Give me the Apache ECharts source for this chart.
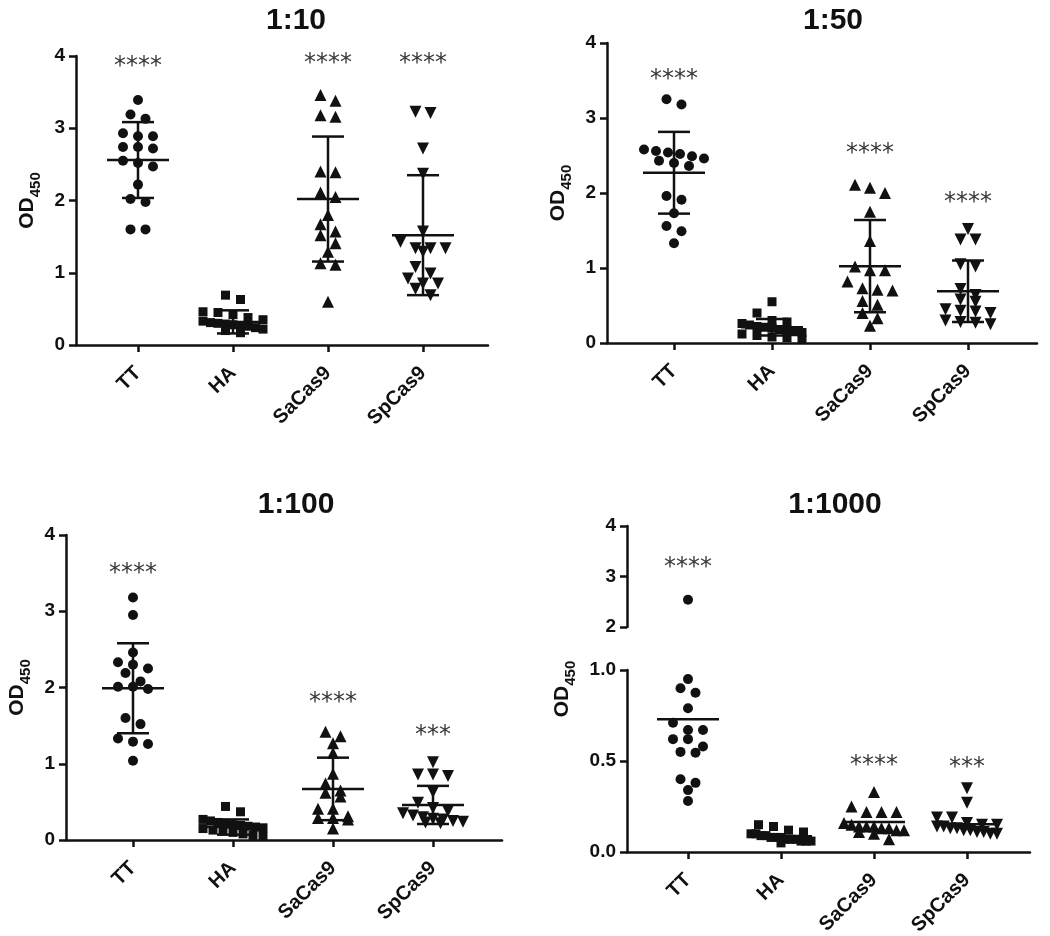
<!DOCTYPE html>
<html><head><meta charset="utf-8">
<script src="https://cdn.jsdelivr.net/npm/echarts@6/dist/echarts.min.js"></script>
<style>html,body{margin:0;padding:0;background:#fff}#c{width:1050px;height:936px}</style>
</head><body><div id="c"></div>
<script>
// ---------------- DATA ----------------
const CATEGORIES = ['TT', 'HA', 'SaCas9', 'SpCas9'];
const PANEL_TITLES = ['1:10', '1:50', '1:100', '1:1000'];
const Y_TICK_INTERVAL = 1;          // 0..4 for the first three panels
const Y_LOW_1000_INTERVAL = 0.5;    // 0.0, 0.5, 1.0
const Y_HIGH_1000_INTERVAL = 1;     // 2, 3, 4

// 1:10
const TT_1_10     = [3.39, 3.19, 3.13, 2.93, 2.89, 2.89, 2.74, 2.74, 2.72, 2.55, 2.52, 2.47, 2.22, 2.02, 1.98, 1.60, 1.60];
const HA_1_10     = [0.69, 0.63, 0.46, 0.45, 0.42, 0.38, 0.35, 0.33, 0.31, 0.30, 0.29, 0.28, 0.27, 0.26, 0.24, 0.22, 0.20, 0.17];
const SACAS9_1_10 = [3.46, 3.38, 3.18, 3.16, 2.40, 2.39, 2.11, 2.05, 1.80, 1.67, 1.57, 1.52, 1.41, 1.29, 1.13, 1.11, 0.60];
const SPCAS9_1_10 = [3.23, 3.21, 2.72, 2.37, 1.57, 1.43, 1.34, 1.34, 1.34, 1.29, 1.08, 0.99, 0.92, 0.85, 0.85, 0.78, 0.69];
const MEAN_1_10   = [2.56, 0.32, 2.02, 1.52];
const SD_1_10     = [0.525, 0.16, 0.865, 0.83];
const STARS_1_10  = ['****', '', '****', '****'];
const STAR_Y_1_10 = [3.90, null, 3.95, 3.95];

// 1:50
const TT_1_50     = [3.25, 3.18, 2.58, 2.56, 2.54, 2.52, 2.49, 2.46, 2.43, 2.40, 2.36, 1.96, 1.91, 1.73, 1.56, 1.49, 1.33];
const HA_1_50     = [0.55, 0.40, 0.30, 0.28, 0.26, 0.24, 0.22, 0.21, 0.20, 0.18, 0.17, 0.15, 0.14, 0.12, 0.10, 0.08, 0.07, 0.05];
const SACAS9_1_50 = [2.11, 2.07, 2.00, 1.75, 1.36, 1.02, 0.97, 0.97, 0.82, 0.73, 0.71, 0.70, 0.56, 0.51, 0.40, 0.33, 0.23];
const SPCAS9_1_50 = [1.52, 1.38, 1.38, 1.05, 1.02, 0.72, 0.64, 0.58, 0.55, 0.45, 0.43, 0.42, 0.40, 0.30, 0.28, 0.27, 0.25];
const MEAN_1_50   = [2.27, 0.21, 1.025, 0.69];
const SD_1_50     = [0.545, 0.11, 0.615, 0.41];
const STARS_1_50  = ['****', '', '****', '****'];
const STAR_Y_1_50 = [3.56, null, 2.57, 1.92];

// 1:100
const TT_1_100     = [3.18, 2.95, 2.46, 2.33, 2.30, 2.25, 2.19, 2.08, 2.01, 2.01, 1.98, 1.60, 1.52, 1.33, 1.29, 1.26, 1.04];
const HA_1_100     = [0.44, 0.37, 0.27, 0.25, 0.23, 0.21, 0.20, 0.19, 0.18, 0.17, 0.16, 0.15, 0.13, 0.12, 0.10, 0.08, 0.06, 0.05];
const SACAS9_1_100 = [1.42, 1.36, 1.27, 1.14, 0.87, 0.74, 0.65, 0.62, 0.57, 0.41, 0.41, 0.31, 0.29, 0.29, 0.27, 0.15];
const SPCAS9_1_100 = [1.02, 0.86, 0.86, 0.84, 0.63, 0.49, 0.42, 0.38, 0.35, 0.32, 0.30, 0.28, 0.27, 0.25, 0.24, 0.23, 0.22];
const MEAN_1_100   = [1.99, 0.17, 0.67, 0.46];
const SD_1_100     = [0.59, 0.10, 0.41, 0.25];
const STARS_1_100  = ['****', '', '****', '***'];
const STAR_Y_1_100 = [3.54, null, 1.85, 1.42];

// 1:1000 (broken axis: 0–1 below, 2–4 above)
const TT_1_1000     = [2.54, 0.95, 0.90, 0.875, 0.79, 0.71, 0.67, 0.67, 0.62, 0.62, 0.58, 0.55, 0.545, 0.40, 0.38, 0.34, 0.28];
const HA_1_1000     = [0.15, 0.14, 0.12, 0.11, 0.10, 0.10, 0.09, 0.09, 0.08, 0.08, 0.08, 0.07, 0.07, 0.07, 0.06, 0.06, 0.06, 0.05];
const SACAS9_1_1000 = [0.33, 0.25, 0.22, 0.22, 0.22, 0.16, 0.15, 0.14, 0.14, 0.14, 0.13, 0.13, 0.12, 0.12, 0.11, 0.10, 0.07];
const SPCAS9_1_1000 = [0.35, 0.27, 0.19, 0.19, 0.16, 0.15, 0.15, 0.14, 0.14, 0.13, 0.13, 0.12, 0.12, 0.11, 0.11, 0.10, 0.10];
const MEAN_1_1000   = [0.73, 0.086, 0.165, 0.152];
const STARS_1_1000  = ['****', '', '****', '***'];
const STAR_Y_1_1000 = [3.26, null, 0.495, 0.487];

// ---------------- LAYOUT / STYLE ----------------
const FONT = '"Liberation Sans", Arial, Helvetica, sans-serif';
const INK = '#111';
const LW = 2.5;
const L = [
  { left: 76,  cat1: 138, step: 95,  right: 488,  top: 56,  bottom: 345, tx: 296, ty: 23 },
  { left: 607, cat1: 674, step: 98,  right: 1037, top: 43,  bottom: 343, tx: 833, ty: 23 },
  { left: 66,  cat1: 133, step: 100, right: 502,  top: 535, bottom: 840, tx: 296, ty: 507 },
  { left: 627, cat1: 688, step: 93,  right: 1030, top: 670, bottom: 852, upTop: 526, upBottom: 627, tx: 835, ty: 507 }
];
const SYMBOLS = [
  { symbol: 'circle', size: 10, rot: 0 },
  { symbol: 'rect', size: 9, rot: 0 },
  { symbol: 'triangle', size: 12, rot: 0 },
  { symbol: 'triangle', size: 12, rot: 180 }
];
const ROW_H = 9;      // px height of a scatter row
const ROW_GAP = 15;   // px between neighbours in a row
const ROW_MAXW = 60;  // max px width of a row

function xRange(l) {
  return { min: 1 - (l.cat1 - l.left) / l.step, max: 4 + (l.right - (l.cat1 + 3 * l.step)) / l.step };
}

// scatter-dot-plot layout: values binned into rows, spread horizontally around the category
function rowOffsets(values, pxPerUnit) {
  const order = values.map((v, i) => i).sort((a, b) => values[b] - values[a]);
  const offs = new Array(values.length).fill(0);
  let row = [];
  const flush = () => {
    const n = row.length;
    const gap = n > 1 ? Math.min(ROW_GAP, ROW_MAXW / (n - 1)) : 0;
    row.forEach((idx, j) => { offs[idx] = (j - (n - 1) / 2) * gap; });
    row = [];
  };
  let start = null;
  order.forEach(i => {
    const y = values[i] * pxPerUnit;
    if (start === null || start - y > ROW_H) { flush(); start = y; }
    row.push(i);
  });
  flush();
  return offs;
}

const grids = [], xAxes = [], yAxes = [], series = [], titles = [];

function axisLineStyle() { return { show: true, onZero: false, lineStyle: { color: INK, width: LW } }; }

function addGrid(l, top, bottom, showX) {
  const idx = grids.length;
  grids.push({ left: l.left, top: top, width: l.right - l.left, height: bottom - top, outerBoundsMode: 'none', containLabel: false });
  const xr = xRange(l);
  xAxes.push({
    type: 'value', gridIndex: idx, min: xr.min, max: xr.max, show: showX,
    axisLine: axisLineStyle(),
    axisTick: { show: true, length: 7, lineStyle: { color: INK, width: LW }, customValues: [1, 2, 3, 4] },
    axisLabel: {
      customValues: [1, 2, 3, 4], rotate: 45, margin: 25,
      formatter: v => CATEGORIES[Math.round(v) - 1] || '',
      fontFamily: FONT, fontWeight: 'bold', fontSize: 20, color: INK
    },
    splitLine: { show: false }
  });
  return idx;
}

function yAxisBase(idx, min, max, interval, fmt) {
  return {
    type: 'value', gridIndex: idx, min, max, interval,
    axisLine: axisLineStyle(),
    axisTick: { show: true, length: 7, lineStyle: { color: INK, width: LW } },
    axisLabel: { margin: 11, fontFamily: FONT, fontWeight: 'bold', fontSize: 19, color: INK, formatter: fmt },
    splitLine: { show: false }
  };
}

const NAME_RICH = {
  a: { fontFamily: FONT, fontWeight: 'bold', fontSize: 21, color: INK, lineHeight: 26, verticalAlign: 'bottom', padding: [0, 0, 5, 0] },
  b: { fontFamily: FONT, fontWeight: 'bold', fontSize: 15, color: INK, lineHeight: 26, verticalAlign: 'bottom' }
};
function withName(ax, gap) {
  ax.name = '{a|OD}{b|450}';
  ax.nameLocation = 'middle';
  ax.nameRotate = 90;
  ax.nameGap = gap;
  ax.nameTextStyle = { rich: NAME_RICH };
  return ax;
}

function addPoints(gi, l, groups, pxPerUnit) {
  groups.forEach((vals, c) => {
    if (!vals.length) return;
    const s = SYMBOLS[c];
    const offs = rowOffsets(vals, pxPerUnit);
    series.push({
      type: 'scatter', xAxisIndex: gi, yAxisIndex: gi, silent: true, clip: false, z: 2,
      symbol: s.symbol, symbolSize: s.size, symbolRotate: s.rot,
      itemStyle: { color: INK, opacity: 1 },
      data: vals.map((v, i) => [c + 1 + offs[i] / l.step, v])
    });
  });
}

function addBars(gi, means, sds) {
  series.push({
    type: 'custom', xAxisIndex: gi, yAxisIndex: gi, silent: true, clip: false, z: 3,
    encode: { x: 0, y: 1 },
    data: means.map((m, i) => sds ? [i + 1, m, sds[i]] : [i + 1, m]),
    renderItem: (params, api) => {
      const x = api.value(0), m = api.value(1), sd = api.value(2);
      const c = api.coord([x, m]);
      const st = { stroke: INK, lineWidth: LW };
      const ch = [{ type: 'line', shape: { x1: c[0] - 31, y1: c[1], x2: c[0] + 31, y2: c[1] }, style: st }];
      if (sd === sd && sd != null && sd > 0) {
        const t = api.coord([x, m + sd]), b = api.coord([x, m - sd]);
        ch.push({ type: 'line', shape: { x1: c[0], y1: t[1], x2: c[0], y2: b[1] }, style: st });
        ch.push({ type: 'line', shape: { x1: c[0] - 16, y1: t[1], x2: c[0] + 16, y2: t[1] }, style: st });
        ch.push({ type: 'line', shape: { x1: c[0] - 16, y1: b[1], x2: c[0] + 16, y2: b[1] }, style: st });
      }
      return { type: 'group', children: ch };
    }
  });
}

function addStars(gi, stars, ys, only) {
  const data = [];
  stars.forEach((s, i) => {
    if (!s || ys[i] == null) return;
    if (only && !only(ys[i])) return;
    data.push({ value: [i + 1, ys[i]], label: { formatter: s } });
  });
  series.push({
    type: 'scatter', xAxisIndex: gi, yAxisIndex: gi, silent: true, clip: false, z: 4,
    symbolSize: 1, itemStyle: { color: 'rgba(0,0,0,0)' },
    label: { show: true, position: 'inside', offset: [0, 4], fontFamily: '"DejaVu Sans", sans-serif', fontSize: 24, color: '#000' },
    data
  });
}

function addTitle(l, text) {
  titles.push({ text, left: l.tx, top: l.ty - 17, textAlign: 'center', padding: 0,
    textStyle: { fontFamily: FONT, fontWeight: 'bold', fontSize: 30, color: INK } });
}

// Panels 1–3
const PANELS = [
  { groups: [TT_1_10, HA_1_10, SACAS9_1_10, SPCAS9_1_10], mean: MEAN_1_10, sd: SD_1_10, stars: STARS_1_10, sy: STAR_Y_1_10 },
  { groups: [TT_1_50, HA_1_50, SACAS9_1_50, SPCAS9_1_50], mean: MEAN_1_50, sd: SD_1_50, stars: STARS_1_50, sy: STAR_Y_1_50 },
  { groups: [TT_1_100, HA_1_100, SACAS9_1_100, SPCAS9_1_100], mean: MEAN_1_100, sd: SD_1_100, stars: STARS_1_100, sy: STAR_Y_1_100 }
];
PANELS.forEach((p, k) => {
  const l = L[k];
  const gi = addGrid(l, l.top, l.bottom, true);
  yAxes.push(withName(yAxisBase(gi, 0, 4, Y_TICK_INTERVAL), 33));
  addPoints(gi, l, p.groups, (l.bottom - l.top) / 4);
  addBars(gi, p.mean, p.sd);
  addStars(gi, p.stars, p.sy);
  addTitle(l, PANEL_TITLES[k]);
});

// Panel 4 (broken axis)
(function () {
  const l = L[3];
  const groups = [TT_1_1000, HA_1_1000, SACAS9_1_1000, SPCAS9_1_1000];
  const lo = addGrid(l, l.top, l.bottom, true);
  yAxes.push(yAxisBase(lo, 0, 1, Y_LOW_1000_INTERVAL, v => v.toFixed(1)));
  addPoints(lo, l, groups.map(g => g.filter(v => v <= 1.5)), (l.bottom - l.top) / 1);
  addBars(lo, MEAN_1_1000, null);
  addStars(lo, STARS_1_1000, STAR_Y_1_1000, v => v <= 1.5);

  const hi = addGrid(l, l.upTop, l.upBottom, false);
  yAxes.push(yAxisBase(hi, 2, 4, Y_HIGH_1000_INTERVAL));
  addPoints(hi, l, groups.map(g => g.filter(v => v > 1.5)), (l.upBottom - l.upTop) / 2);
  addStars(hi, STARS_1_1000, STAR_Y_1_1000, v => v > 1.5);

  // holder grid only for the shared y-axis title
  const nm = addGrid(l, l.upTop, l.bottom, false);
  const ax = withName(yAxisBase(nm, 0, 1, 1), 49);
  ax.axisLine = { show: false, onZero: false };
  ax.axisTick = { show: false };
  ax.axisLabel = { show: false };
  yAxes.push(ax);
  addTitle(l, PANEL_TITLES[3]);
})();

const chart = echarts.init(document.getElementById('c'), null, { renderer: 'canvas' });
chart.setOption({
  animation: false,
  backgroundColor: '#fff',
  title: titles,
  grid: grids,
  xAxis: xAxes,
  yAxis: yAxes,
  series: series
});
</script></body></html>
